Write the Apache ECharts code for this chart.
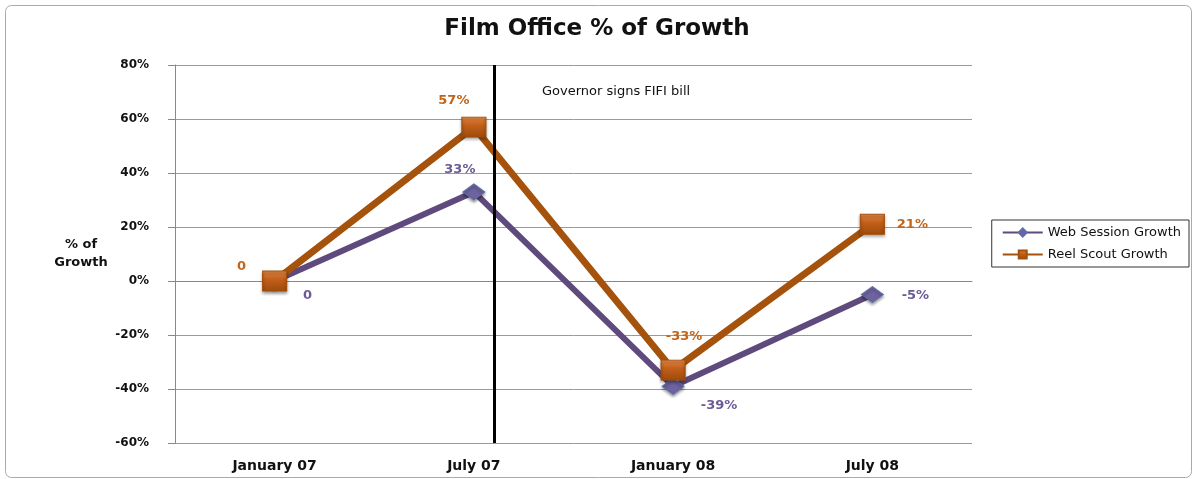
<!DOCTYPE html>
<html>
<head>
<meta charset="utf-8">
<script src="https://cdn.jsdelivr.net/npm/echarts@6/dist/echarts.min.js"></script>
<style>
  html, body { margin: 0; padding: 0; background: #fff; }
  #chart { width: 1194px; height: 479px; }
</style>
</head>
<body>
<div id="chart"></div>
<script>
const categories = ['January 07', 'July 07', 'January 08', 'July 08']
const webSession = [0, 33, -39, -5]
const reelScout = [0, 57, -33, 21]
const yTicks = [-60, -40, -20, 0, 20, 40, 60, 80]
const billLineAt = 1.1 // between July 07 and January 08

// label offsets so they sit where the original put them
const webOffsets = [[33, 15], [-14, -22], [46, 19], [43, 1]]
const reelOffsets = [[-33, -14], [-20, -26], [11, -33], [40, 0]]

const fmt = v => (v === 0 ? '0' : v + '%')
const FONT = 'DejaVu Sans'

const chart = echarts.init(document.getElementById('chart'))

const option = {
  backgroundColor: '#fff',
  textStyle: { fontFamily: FONT },
  title: {
    text: 'Film Office % of Growth',
    left: 'center',
    top: 13,
    textStyle: { fontSize: 23, fontWeight: 'bold', color: '#111', fontFamily: FONT }
  },
  legend: {
    orient: 'vertical',
    right: 5,
    top: 220,
    borderColor: '#333',
    borderWidth: 1,
    padding: [6, 8, 6, 10],
    itemGap: 9,
    itemWidth: 40,
    itemHeight: 10,
    textStyle: { fontSize: 13, color: '#111', fontFamily: FONT },
    data: ['Web Session Growth', 'Reel Scout Growth']
  },
  grid: { left: 175, right: 222, top: 65, bottom: 36 },
  xAxis: [
    {
      type: 'category',
      data: categories,
      axisLine: { lineStyle: { color: '#888' } },
      axisTick: { show: false },
      axisLabel: { color: '#111', fontWeight: 'bold', fontSize: 14, margin: 16 }
    },
    {
      type: 'value',
      min: -0.5,
      max: 3.5,
      show: false
    }
  ],
  yAxis: {
    type: 'value',
    min: yTicks[0],
    max: yTicks[yTicks.length - 1],
    interval: 20,
    name: '% of\nGrowth',
    nameLocation: 'middle',
    nameRotate: 0,
    nameGap: 94,
    nameTextStyle: { fontWeight: 'bold', fontSize: 13, color: '#111', lineHeight: 18, align: 'center', padding: [0, 0, 38, 0] },
    axisLine: { show: true, onZero: false, lineStyle: { color: '#888' } },
    axisTick: { show: true, length: 7, lineStyle: { color: '#888' } },
    axisLabel: { color: '#111', fontWeight: 'bold', fontSize: 12, margin: 26, formatter: v => v + '%' },
    splitLine: { lineStyle: { color: '#9a9a9a' } }
  },
  series: [
    {
      name: 'Web Session Growth',
      type: 'line',
      data: webSession.map((v, i) => ({
        value: v,
        label: { offset: webOffsets[i] }
      })),
      z: 3,
      symbol: 'diamond',
      symbolSize: [22, 16],
      lineStyle: { color: '#5f4a7d', width: 6 },
      itemStyle: { color: '#6e62a0', borderColor: '#5a70a8', borderWidth: 1, shadowBlur: 3, shadowColor: 'rgba(0,0,0,0.4)', shadowOffsetY: 2 },
      label: {
        show: true,
        position: 'inside',
        formatter: p => fmt(p.value),
        color: '#6a5a96',
        fontWeight: 'bold',
        fontSize: 13
      }
    },
    {
      name: 'Reel Scout Growth',
      type: 'line',
      data: reelScout.map((v, i) => ({
        value: v,
        label: { offset: reelOffsets[i] }
      })),
      z: 4,
      symbol: 'rect',
      symbolSize: [24, 20],
      lineStyle: { color: '#a5520c', width: 7 },
      itemStyle: {
        color: new echarts.graphic.LinearGradient(0, 0, 0, 1, [
          { offset: 0, color: '#e58a4a' },
          { offset: 0.4, color: '#c4601a' },
          { offset: 1, color: '#9e4a0c' }
        ]),
        borderColor: '#a4500b',
        borderWidth: 1,
        shadowBlur: 3,
        shadowColor: 'rgba(0,0,0,0.4)',
        shadowOffsetY: 2
      },
      label: {
        show: true,
        position: 'inside',
        formatter: p => fmt(p.value),
        color: '#c0651a',
        fontWeight: 'bold',
        fontSize: 13
      }
    },
    {
      // vertical marker for the bill signing
      type: 'line',
      xAxisIndex: 1,
      data: [],
      silent: true,
      markLine: {
        symbol: 'none',
        silent: true,
        label: { show: false },
        lineStyle: { color: '#000', width: 3, type: 'solid' },
        data: [{ xAxis: billLineAt }]
      }
    }
  ],
  graphic: [
    {
      type: 'rect',
      left: 3,
      top: 3,
      shape: { width: 1186, height: 472, r: 6 },
      style: { fill: 'none', stroke: '#aaa', lineWidth: 1 },
      silent: true
    },
    {
      type: 'text',
      left: 542,
      top: 85,
      style: { text: 'Governor signs FIFI bill', fontSize: 13, fill: '#111', fontFamily: FONT }
    }
  ]
}

chart.setOption(option)
</script>
</body>
</html>
